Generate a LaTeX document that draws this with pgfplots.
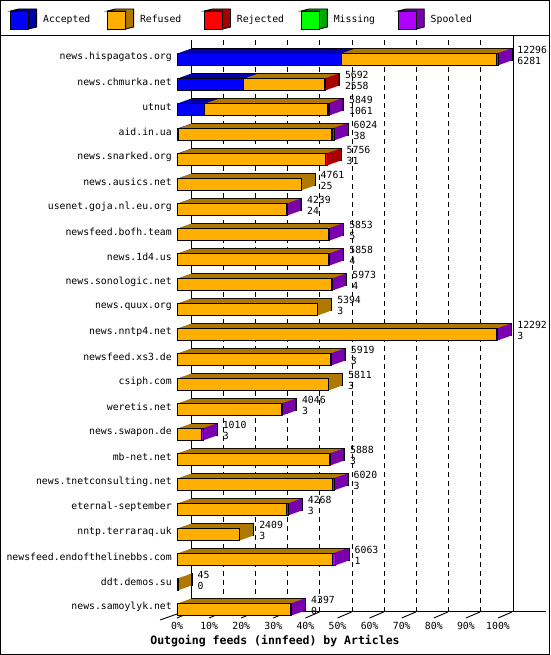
\documentclass[border=0pt]{standalone}
\usepackage{pgfplots}
\pgfplotsset{compat=1.18}
\usepackage{pgfplotstable}
\usepackage{fontspec}
\setmainfont{DejaVu Sans Mono}

\definecolor{cAcc}{HTML}{0000FF}\definecolor{cAccD}{HTML}{0000A8}
\definecolor{cRef}{HTML}{FFAF00}\definecolor{cRefD}{HTML}{AF7800}
\definecolor{cRej}{HTML}{FF0000}\definecolor{cRejD}{HTML}{A80000}
\definecolor{cMis}{HTML}{00FF00}\definecolor{cMisD}{HTML}{00A800}
\definecolor{cSpo}{HTML}{AF00FF}\definecolor{cSpoD}{HTML}{7800AF}

\newcommand\lbl{\fontsize{9.8}{11}\selectfont}
% legend cube: front square + dark top/side
\newcommand\cube[2]{%
  \draw[fill=#2,draw=black,line width=0.9pt] (0pt,9pt)--(8pt,11pt)--(26pt,11pt)--(26pt,-7pt)--(18pt,-9pt)--(18pt,9pt)--cycle;
  \draw[fill=#1,draw=black,line width=0.9pt] (0pt,-9pt) rectangle (18pt,9pt);}
\newcommand\legtxt[1]{\makebox[70pt][l]{\hspace*{6pt}#1}}
\newcommand\cnt[1]{\pgfmathprintnumber[fixed,precision=0,1000 sep={},assume math mode=true]{#1}}

% y = -row, articles per status, tot = offered
\pgfplotstableread{
y   acc  ref   rej mis spo tot
0   6281 5955  0   0   60  12296
-1  2558 3074  60  0   0   5692
-2  1061 4688  40  0   60  5849
-3  38   5886  40  0   60  6024
-4  31   5665  60  0   0   5756
-5  25   4736  0   0   0   4761
-6  24   4155  0   0   60  4239
-7  5    5788  0   0   60  5853
-8  4    5794  0   0   60  5858
-9  4    5909  0   0   60  5973
-10 3    5391  0   0   0   5394
-11 3    12229 0   0   60  12292
-12 3    5856  0   0   60  5919
-13 3    5808  0   0   0   5811
-14 3    3983  0   0   60  4046
-15 3    947   0   0   60  1010
-16 3    5825  0   0   60  5888
-17 3    5957  0   0   60  6020
-18 3    4205  0   0   60  4268
-19 3    2406  0   0   0   2409
-20 1    5937  0   0   125 6063
-21 0    45    0   0   0   45
-22 0    4337  0   0   60  4397
}\feeds

\pgfplotsset{
 geom/.style={
  scale only axis, width=321pt, height=577pt,
  xmin=0, xmax=12296, ymin=-22.3, ymax=0.78,
  anchor=south west, at={(177pt,-617pt)}, clip=false,
  scaled x ticks=false,
  every axis plot/.append style={line width=0.9pt}},
 base/.style={geom, xbar stacked, bar width=12pt}}

% one copy of the bar depth, shifted back by #1 px
\newcommand\depth[2]{%
\begin{axis}[base, hide axis, xshift=#1*1pt, yshift=#1*0.357pt,
  every axis plot/.append style={draw=#2}]
\addplot[fill=cAccD] table[x=acc,y=y]{\feeds};
\addplot[fill=cRefD] table[x=ref,y=y]{\feeds};
\addplot[fill=cRejD] table[x=rej,y=y]{\feeds};
\addplot[fill=cMisD] table[x=mis,y=y]{\feeds};
\addplot[fill=cSpoD] table[x=spo,y=y]{\feeds};
\end{axis}}

\begin{document}
\begin{tikzpicture}
\useasboundingbox (0,0) rectangle (550pt,-655pt);
\begin{scope}[x=1pt,y=-1pt,line width=0.9pt]
  \draw (0.5,0.5) rectangle (549.5,654.5);
  \draw (0,35.5) -- (550,35.5);
  \draw (191.5,40) -- (191.5,611.5);
  \draw (513.5,35.5) -- (513.5,611.5);
  \draw (191.5,611.5) -- (546,611.5);
  \foreach \k in {1,...,9}
    \draw[dash pattern=on 5pt off 4pt] ({191.5+32.1*\k},40) -- ({191.5+32.1*\k},611.5);
  \foreach \k in {0,...,10}
    \draw ({177+32.1*\k},618) -- ({191+32.1*\k},612);
  \draw (160,620) -- (177,614);
\end{scope}

\depth{14}{black}
\foreach \s in {13,12,...,1}{\depth{\s}{none}}

\begin{axis}[base,
  axis line style={draw=none}, major tick length=0pt, tick style={draw=none},
  ytick={0,-1,...,-22},
  yticklabels={news.hispagatos.org,news.chmurka.net,utnut,aid.in.ua,news.snarked.org,
    news.ausics.net,usenet.goja.nl.eu.org,newsfeed.bofh.team,news.1d4.us,news.sonologic.net,
    news.quux.org,news.nntp4.net,newsfeed.xs3.de,csiph.com,weretis.net,news.swapon.de,
    mb-net.net,news.tnetconsulting.net,eternal-september,nntp.terraraq.uk,
    newsfeed.endofthelinebbs.com,ddt.demos.su,news.samoylyk.net},
  xtick={0,1229.6,2459.2,3688.8,4918.4,6148,7377.6,8607.2,9836.8,11066.4,12296},
  xticklabels={0\%,10\%,20\%,30\%,40\%,50\%,60\%,70\%,80\%,90\%,100\%},
  ticklabel style={font=\lbl, inner sep=0pt},
  yticklabel style={anchor=east, xshift=-5pt, yshift=2.5pt},
  xticklabel style={anchor=north, yshift=-5pt},
  xlabel={Outgoing feeds (innfeed) by Articles},
  xlabel style={at={(axis description cs:0.3053,-0.0416)}, anchor=center,
    font=\fontsize{11.5}{13}\selectfont\bfseries},
  legend columns=5,
  legend style={at={(axis description cs:-0.5202,1.0364)}, anchor=west,
    draw=none, fill=none, inner sep=0pt, font=\lbl, nodes={inner sep=0pt},
    /tikz/every even column/.append style={column sep=0pt}},
]
\addplot[fill=cAcc, draw=black, legend image code/.code={\cube{cAcc}{cAccD}}] table[x=acc,y=y]{\feeds};
\addplot[fill=cRef, draw=black, legend image code/.code={\cube{cRef}{cRefD}}] table[x=ref,y=y]{\feeds};
\addplot[fill=cRej, draw=black, legend image code/.code={\cube{cRej}{cRejD}}] table[x=rej,y=y]{\feeds};
\addplot[fill=cMis, draw=black, legend image code/.code={\cube{cMis}{cMisD}}] table[x=mis,y=y]{\feeds};
\addplot[fill=cSpo, draw=black, legend image code/.code={\cube{cSpo}{cSpoD}}] table[x=spo,y=y]{\feeds};
\legend{\legtxt{Accepted},\legtxt{Refused},\legtxt{Rejected},\legtxt{Missing},\legtxt{Spooled}}
\end{axis}

% offered / accepted counts beside each bar
\begin{axis}[geom, hide axis]
\addplot[draw=none, mark=none,
  visualization depends on={\thisrow{tot}\as\lbltot},
  visualization depends on={\thisrow{acc}\as\lblacc},
  nodes near coords={\cnt{\lbltot}\\\cnt{\lblacc}},
  nodes near coords align=horizontal,
  nodes near coords style={anchor=west, align=left, inner sep=0pt,
    xshift=19pt, yshift=4pt, font=\lbl, text=black}] table[x=tot,y=y]{\feeds};
\end{axis}
\end{tikzpicture}
\end{document}
